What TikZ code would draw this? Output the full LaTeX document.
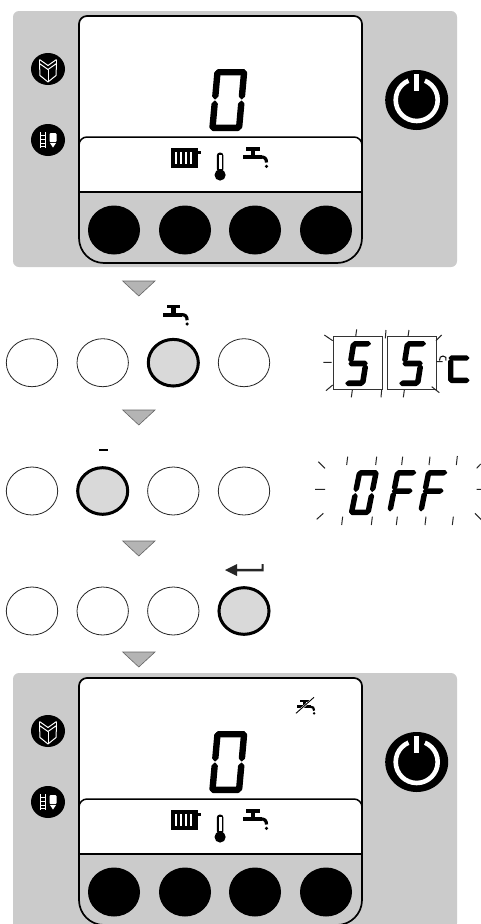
\documentclass[tikz,border=0pt]{standalone}
\definecolor{panelgray}{HTML}{CBCBCB}
\definecolor{keygray}{HTML}{D9D9D9}
\definecolor{trigray}{HTML}{B4B4B4}
\tikzset{
  x=1pt,y=-1pt,
  panelbg/.style={fill=panelgray,draw=none,rounded corners=6pt},
  frameline/.style={draw=black,line width=1.7pt},
  blackkey/.style={fill=black,draw=none},
  emptykey/.style={draw=black!85,fill=white,line width=0.8pt},
  activekey/.style={draw=black,fill=keygray,line width=3pt},
  marker/.style={fill=trigray,draw=black!60,line width=0.6pt},
  iconline/.style={draw=white,line width=1pt,line join=round},
  ray/.style={draw=black!85,line width=1pt},
  boxline/.style={draw=black!80,line width=0.9pt},
  seg/.style={fill=black,draw=none,rounded corners=0.5pt},
}
% seven segment glyph: origin bottom left, width, height, thickness, gap
\def\SegSetup#1#2#3#4{\def\SW{#1}\def\SH{#2}\def\ST{#3}\def\SG{#4}}
\def\SegH#1{\fill[seg] (\SG,#1+\ST/2-\SH) -- (\SG+\ST/2,#1-\SH) -- (\SW-\SG-\ST/2,#1-\SH) -- (\SW-\SG,#1+\ST/2-\SH) -- (\SW-\SG-\ST/2,#1+\ST-\SH) -- (\SG+\ST/2,#1+\ST-\SH) -- cycle;}
\def\SegV#1#2#3{\fill[seg] (#1+\ST/2,#2-\SH) -- (#1+\ST,#2+\ST/2-\SH) -- (#1+\ST,#3-\ST/2-\SH) -- (#1+\ST/2,#3-\SH) -- (#1,#3-\ST/2-\SH) -- (#1,#2+\ST/2-\SH) -- cycle;}
\def\SegA{\SegH{0}}
\def\SegG{\SegH{\SH/2-\ST/2}}
\def\SegD{\SegH{\SH-\ST}}
\def\SegF{\SegV{0}{\SG}{\SH/2-\SG}}
\def\SegE{\SegV{0}{\SH/2+\SG}{\SH-\SG}}
\def\SegB{\SegV{\SW-\ST}{\SG}{\SH/2-\SG}}
\def\SegC{\SegV{\SW-\ST}{\SH/2+\SG}{\SH-\SG}}
% tap icon
\newcommand{\TapIcon}[4]{%
  \begin{scope}[shift={(#1,#2)},scale=#3]
    \fill (3.5,0) rectangle (17,3.5);
    \fill (8,3) rectangle (12.5,9);
    \fill (0,8) rectangle (19,11.8);
    \draw[line width=#4] (18,9.9) .. controls (22,9.9) and (23.8,11.5) .. (23.8,15.5);
    \fill (23.8,19.3) circle[radius=1.8];
  \end{scope}}
\newcommand{\ControlPanel}[1]{%
  \begin{scope}[yshift=-#1pt]
    \fill[panelbg] (13,11) rectangle (457,267);
    \fill[white,rounded corners=8pt] (79,192) [sharp corners] -- (79,100) [rounded corners=8pt] -- (79,16) -- (362,16) -- (362,100) [sharp corners] -- (362,192) -- cycle;
    \draw[frameline] (79,100) [rounded corners=8pt] -- (79,16) -- (362,16) -- (362,100) [rounded corners=25pt] -- (362,263) -- (79,263) -- cycle;
    \draw[frameline,line width=1.5pt] (79,192) -- (362,192);
    \draw[frameline,line width=1.5pt,rounded corners=8pt] (79,155) -- (79,137) -- (362,137) -- (362,155);
    \foreach \kx in {114,185,255,326} \fill[blackkey] (\kx,230) ellipse[x radius=26,y radius=24.5];
    % digit
    \begin{scope}[shift={(209,131)},xslant=0.09]
      \SegSetup{33}{62}{6.4}{0.3}
      \SegA\SegB\SegC\SegD\SegE\SegF
    \end{scope}
    % radiator
    \fill (171,148) rectangle (198,168);
    \fill (197,151) rectangle (200.5,154);
    \foreach \bx in {175.2,180,184.8,189.6} \fill[white] (\bx,152) rectangle (\bx+2.2,164);
    % thermometer
    \fill[rounded corners=3pt] (216.8,172) -- (216.8,152.5) -- (223.4,152.5) -- (223.4,172) -- cycle;
    \fill (220.1,175) circle[radius=5.6];
    \fill[white] (218.6,155) rectangle (221.6,169);
    \TapIcon{242.7}{147}{1}{3.2pt}
    % guide icons
    \fill (48,69) ellipse[x radius=17,y radius=16];
    \draw[iconline] (39.5,63.5) -- (48,69.5) -- (56.5,63.5) -- (56,75.5) -- (48,82) -- (40,75.5) -- cycle;
    \draw[iconline] (48,69.5) -- (48,82);
    \draw[iconline] (39.5,59.5) -- (48,65.5) -- (56.5,59.5);
    \draw[iconline] (39.5,59.5) -- (39.5,63.5) (56.5,59.5) -- (56.5,63.5);
    \fill (48,140) ellipse[x radius=17,y radius=16];
    \draw[iconline] (40.5,132) -- (40.5,148) (45,132) -- (45,148);
    \draw[iconline,line width=0.9pt] (40.5,135) -- (45,135) (40.5,139) -- (45,139) (40.5,143) -- (45,143) (40.5,146.5) -- (45,146.5);
    \fill[white,rounded corners=1pt] (49.5,133) rectangle (56.5,142);
    \fill[white] (50,143) -- (56,143) -- (53,147.5) -- cycle;
    % power
    \fill (416.7,100) ellipse[x radius=31.5,y radius=30];
    \draw[white,line width=4.6pt] (416.7,100) circle[radius=21];
    \fill (416.7,100) -- (405,72) -- (428.4,72) -- cycle;
    \fill[white] (414,74) rectangle (419.4,91);
  \end{scope}}
\newcommand{\KeyRow}[2]{%
  \foreach \kx in {32,102.7,173.3,244} \draw[emptykey] (\kx,#1) ellipse[x radius=25.7,y radius=24];
  \draw[activekey] (#2,#1) ellipse[x radius=25,y radius=23.3];}
\begin{document}
\begin{tikzpicture}
\clip (0,0) rectangle (481,924);
\fill[white] (0,0) rectangle (481,924);
\ControlPanel{0}
\ControlPanel{662}
% crossed tap
\TapIcon{297}{699.5}{0.72}{2.2pt}
\draw[white,line width=2pt] (297,712.5) -- (313.5,698);
\draw[black,line width=0.9pt] (296,713.3) -- (314,697.3);
% step markers
\foreach \ty in {281,410,541,652} \draw[marker] (122.7,\ty) -- (155,\ty) -- (138.8,\ty+15) -- cycle;
% key rows
\KeyRow{362.7}{173.3}
\KeyRow{491}{102.7}
\KeyRow{611}{244}
\TapIcon{163.3}{304.7}{1}{3.2pt}
\fill (98.5,449.2) rectangle (108,450.8);
% enter arrow
\fill[black!85] (225,570) -- (237,564) -- (237,568.8) -- (261.5,568.8) -- (261.5,564) -- (263.5,564) -- (263.5,571.4) -- (237,571.4) -- (237,576) -- cycle;
% 55 C display
\draw[boxline] (333,336) rectangle (382,389);
\draw[boxline] (387,336) rectangle (436,389);
\begin{scope}[shift={(344,386)},xslant=0.16]
  \SegSetup{21}{45}{5.6}{0.6}
  \SegA\SegF\SegG\SegC\SegD
\end{scope}
\begin{scope}[shift={(398,386)},xslant=0.16]
  \SegSetup{22}{45}{5.6}{0.6}
  \SegA\SegF\SegG\SegC\SegD
\end{scope}
\begin{scope}[shift={(448,383)}]
  \SegSetup{22}{50}{5.4}{0.3}
  \SegG\SegE\SegD
\end{scope}
\draw[black,line width=1pt] (439.5,360.5) .. controls (439,357.5) and (441,356) .. (443,356) .. controls (445.5,356) and (447,358) .. (446,360.5);
\begin{scope}[shift={(310,320)},scale=1/3]
  \draw[ray] (43,45) -- (68,62) (140,28) -- (137,50) (228,30) -- (226,55) (297,30) -- (294,50) (395,45) -- (378,62)
    (40,127) -- (65,127) (378,125) -- (398,125)
    (48,212) -- (68,195) (127,210) -- (124,232) (215,210) -- (213,232) (283,210) -- (280,232) (365,200) -- (388,218);
\end{scope}
% OFF display
\begin{scope}[shift={(348.3,515)},xslant=0.2]
  \SegSetup{22}{45}{5.5}{0.4}
  \SegA\SegB\SegC\SegD\SegE\SegF
\end{scope}
\begin{scope}[shift={(387,512)},xslant=0.2]
  \SegSetup{22}{42}{5.5}{0.4}
  \SegA\SegE\SegF\SegG
\end{scope}
\begin{scope}[shift={(418,512)},xslant=0.2]
  \SegSetup{22}{42}{5.5}{0.4}
  \SegA\SegE\SegF\SegG
\end{scope}
\begin{scope}[shift={(310,450)},scale=1/3]
  \draw[ray] (25,35) -- (45,55) (113,20) -- (110,45) (200,20) -- (197,45) (278,20) -- (275,45) (360,20) -- (357,45) (442,18) -- (439,45) (512,42) -- (500,55)
    (15,118) -- (45,118) (500,118) -- (515,118)
    (20,208) -- (40,190) (98,200) -- (95,225) (187,200) -- (184,225) (262,200) -- (259,225) (348,200) -- (345,225) (430,200) -- (427,225) (495,190) -- (515,210);
\end{scope}
\end{tikzpicture}
\end{document}
